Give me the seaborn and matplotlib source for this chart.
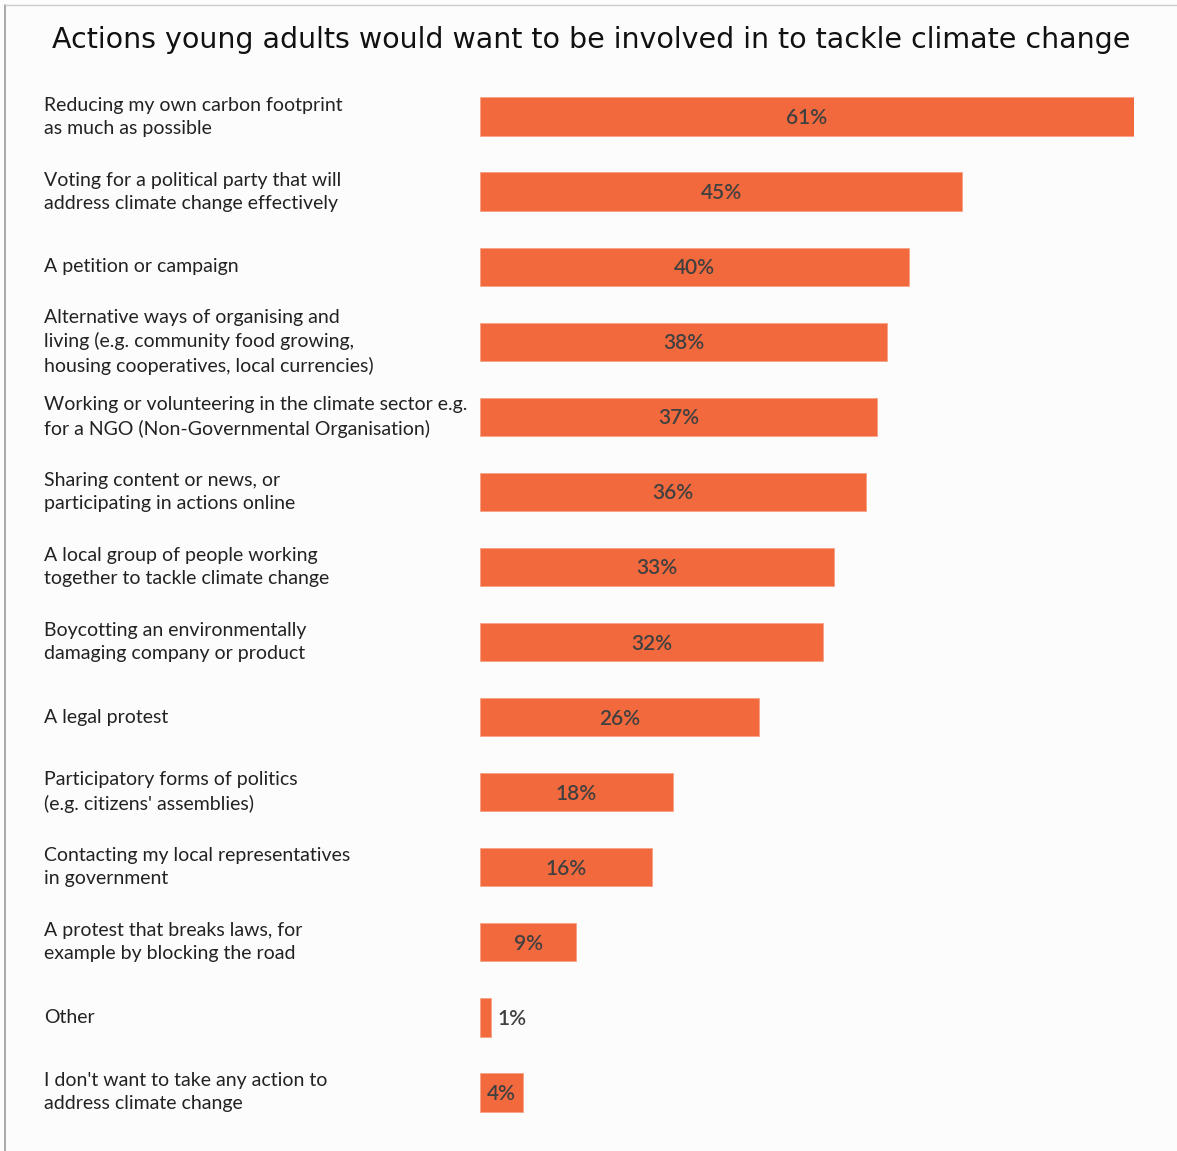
import matplotlib
matplotlib.use("Agg")
import matplotlib.pyplot as plt
import seaborn as sns
import pandas as pd
from matplotlib.lines import Line2D

categories = [
    "Reducing my own carbon footprint\nas much as possible",
    "Voting for a political party that will\naddress climate change effectively",
    "A petition or campaign",
    "Alternative ways of organising and\nliving (e.g. community food growing,\nhousing cooperatives, local currencies)",
    "Working or volunteering in the climate sector e.g.\nfor a NGO (Non-Governmental Organisation)",
    "Sharing content or news, or\nparticipating in actions online",
    "A local group of people working\ntogether to tackle climate change",
    "Boycotting an environmentally\ndamaging company or product",
    "A legal protest",
    "Participatory forms of politics\n(e.g. citizens' assemblies)",
    "Contacting my local representatives\nin government",
    "A protest that breaks laws, for\nexample by blocking the road",
    "Other",
    "I don't want to take any action to\naddress climate change",
]
values = [61, 45, 40, 38, 37, 36, 33, 32, 26, 18, 16, 9, 1, 4]
title = "Actions young adults would want to be involved in to tackle climate change"

df = pd.DataFrame({"category": categories, "value": values})

sns.set_theme(style="white")
plt.rcParams["font.family"] = ["Lato", "DejaVu Sans"]

W, H = 1177, 1151
fig = plt.figure(figsize=(W / 100, H / 100), dpi=100)
fig.patch.set_facecolor("#fcfcfc")

left, right = 480, 1134
top, bottom = 79, 1130
ax = fig.add_axes([left / W, 1 - bottom / H, (right - left) / W, (bottom - top) / H])
ax.set_facecolor("#fcfcfc")

bar_color = "#f2693d"
sns.barplot(data=df, x="value", y="category", color=bar_color, width=0.51,
            saturation=1, ax=ax, edgecolor="#f7a184", linewidth=0.6)
ax.set_xlim(0, 61)
ax.set_ylim(len(categories) - 0.5, -0.5)
ax.set_xlabel("")
ax.set_ylabel("")
ax.set_xticks([])
ax.set_yticks([])
for s in ax.spines.values():
    s.set_visible(False)

for i, (cat, v) in enumerate(zip(categories, values)):
    if v < 3:
        ax.text(v + 0.6, i + 0.02, f"{v}%", ha="left", va="center", fontsize=15,
                color="#404040", fontweight="semibold")
    else:
        ax.text(v / 2, i + 0.02, f"{v}%", ha="center", va="center", fontsize=15,
                color="#404040", fontweight="semibold")
    y_fig = ax.transData.transform((0, i))[1]
    fig.text(44 / W, y_fig / H, cat, ha="left", va="center", fontsize=14,
             color="#222222", linespacing=1.43,
             transform=fig.transFigure)

fig.text(591 / W, 1 - 40 / H, title, ha="center", va="center", fontsize=20.5,
         color="#111111", family=["DejaVu Sans"])

# frame lines (left and top border)
fig.add_artist(Line2D([5 / W, 5 / W], [0, 1 - 5 / H], color="#9a9a9a", lw=1.2,
                      transform=fig.transFigure))
fig.add_artist(Line2D([5 / W, 1], [1 - 5 / H, 1 - 5 / H], color="#cccccc", lw=1.0,
                      transform=fig.transFigure))

fig.savefig("out.png", dpi=100, facecolor=fig.get_facecolor())
